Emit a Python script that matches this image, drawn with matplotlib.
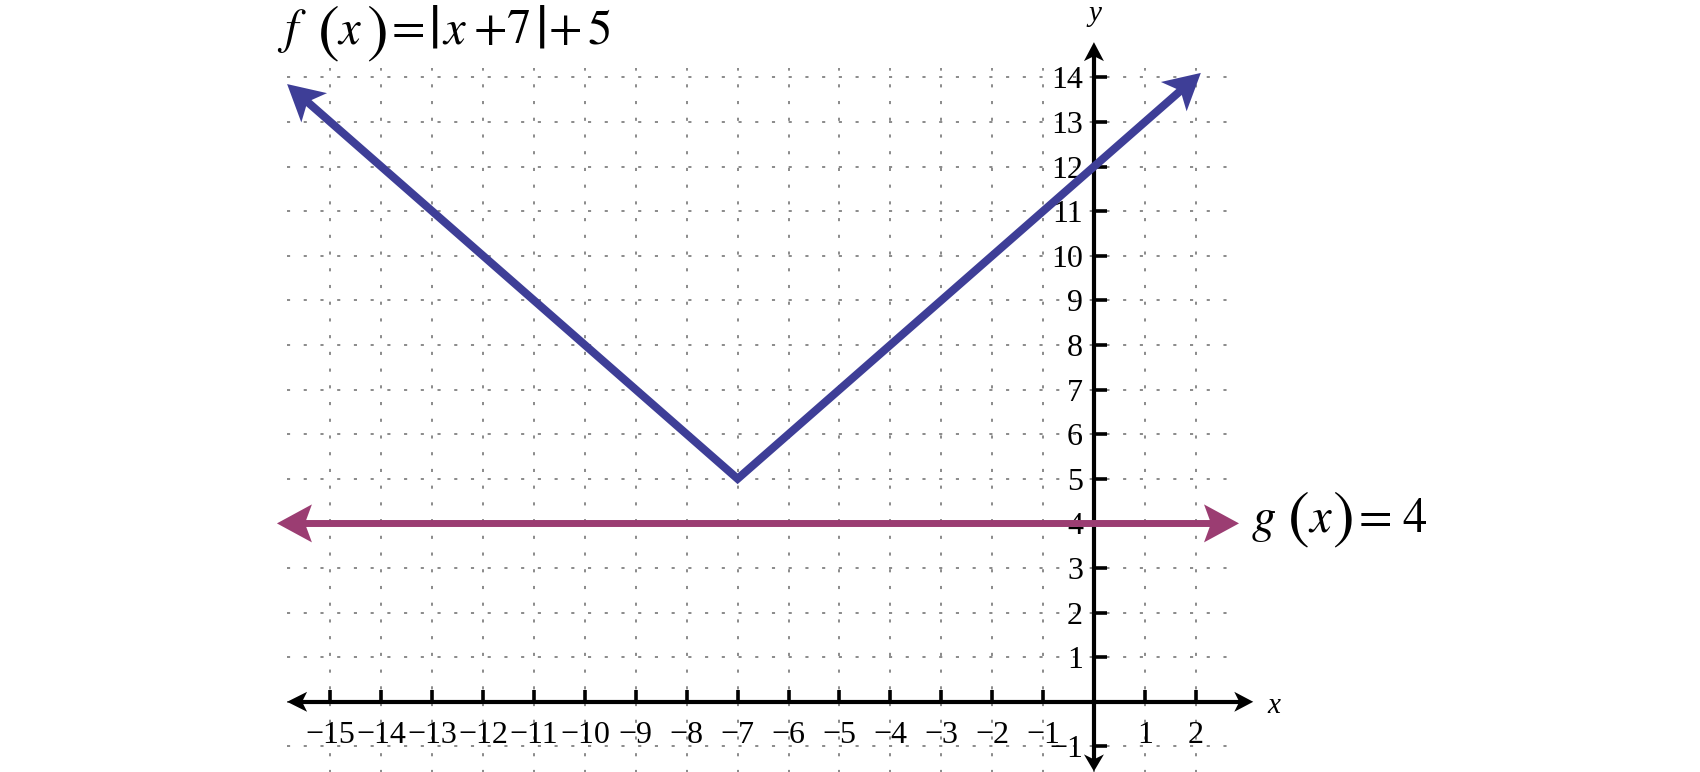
import numpy as np
import matplotlib.pyplot as plt
from matplotlib.patches import Polygon
from matplotlib.transforms import IdentityTransform

plt.rcParams['font.family'] = ['Liberation Serif', 'DejaVu Serif']
plt.rcParams['mathtext.fontset'] = 'stix'

# values
f_x = [-15.85, -7.0, 2.1]
f_y = [13.85, 5.0, 14.1]
g_x = [-16.05, 2.85]
g_y = [4.0, 4.0]

x_ticks = [-15, -14, -13, -12, -11, -10, -9, -8, -7, -6, -5, -4, -3, -2, -1, 1, 2]
x_labels = ['−15', '−14', '−13', '−12', '−11', '−10', '−9', '−8', '−7', '−6',
            '−5', '−4', '−3', '−2', '−1', '1', '2']
y_ticks = [-1, 1, 2, 3, 4, 5, 6, 7, 8, 9, 10, 11, 12, 13, 14]
y_labels = ['−1', '1', '2', '3', '4', '5', '6', '7', '8', '9', '10', '11', '12', '13', '14']
grid_x = list(range(-15, 3))
grid_y = list(range(-1, 15))

x_axis = [-15.85, 3.13]
y_axis = [-1.56, 14.79]

f_color = '#3e3e97'
g_color = '#9b3d72'

W, H = 1700, 772
fig = plt.figure(figsize=(17, 7.72), dpi=100)
ax = fig.add_axes([0, 0, 1, 1])
ax.set_xlim(-21.49, 11.906)
ax.set_ylim(-1.574, 15.735)
ax.axis('off')


def arrow_head(tip, prev, length, half, notch, color, z):
    # stealth style head drawn in pixels, returns where the line should stop
    p1 = ax.transData.transform(tip)
    p0 = ax.transData.transform(prev)
    d = (p1 - p0) / np.hypot(*(p1 - p0))
    n = np.array([-d[1], d[0]])
    pts = [p1, p1 - length * d + half * n, p1 - (length - notch) * d, p1 - length * d - half * n]
    ax.add_patch(Polygon(pts, closed=True, transform=IdentityTransform(),
                         facecolor=color, edgecolor='none', zorder=z))
    return ax.transData.inverted().transform(p1 - (length - notch - 2) * d)


def formula(pieces, base_y):
    # pieces: (text, left px, font size, baseline shift px, italic)
    for s, left, size, dy, it in pieces:
        fig.text(left / W, 1 - (base_y + dy) / H, s, fontsize=size,
                 family='STIXGeneral', style='italic' if it else 'normal',
                 ha='left', va='baseline')


# dotted grid
grid_style = dict(colors='#8a8a8a', linewidths=1.4, linestyles=(0, (1.6, 7.0)), zorder=1)
ax.vlines(grid_x, -1.6, 14.2, **grid_style)
ax.hlines(grid_y, -15.85, 2.83, **grid_style)

# axes with arrows
xa0 = arrow_head((x_axis[0], 0), (0, 0), 20, 10, 5, 'black', 4)
xa1 = arrow_head((x_axis[1], 0), (0, 0), 19, 10, 5, 'black', 4)
ax.plot([xa0[0], xa1[0]], [0, 0], color='black', lw=3, solid_capstyle='butt', zorder=3)
ya0 = arrow_head((0, y_axis[0]), (0, 0), 17, 10, 5, 'black', 4)
ya1 = arrow_head((0, y_axis[1]), (0, 0), 19, 10, 5, 'black', 4)
ax.plot([0, 0], [ya0[1], ya1[1]], color='black', lw=3, solid_capstyle='butt', zorder=3)

ax.vlines(x_ticks, 0, 0.27, colors='black', linewidths=2.6, zorder=3)
ax.hlines(y_ticks, 0, 0.26, colors='black', linewidths=2.6, zorder=3)

for xt, lab in zip(x_ticks, x_labels):
    ax.annotate(lab, (xt, 0), xytext=(0, -29.5), textcoords='offset points',
                ha='center', va='baseline', fontsize=23)
for yt, lab in zip(y_ticks, y_labels):
    ax.annotate(lab, (0, yt), xytext=(-7.9, -7.9), textcoords='offset points',
                ha='right', va='baseline', fontsize=23)

ax.text(3.40, -0.25, 'x', fontstyle='italic', fontsize=21, ha='left', va='baseline')
ax.text(0.02, 15.26, 'y', fontstyle='italic', fontsize=21, ha='center', va='baseline')

# f(x) = |x+7| + 5
fa = arrow_head((f_x[0], f_y[0]), (f_x[1], f_y[1]), 36, 19.5, 9, f_color, 6)
fb = arrow_head((f_x[2], f_y[2]), (f_x[1], f_y[1]), 36, 19.5, 9, f_color, 6)
ax.plot([fa[0], f_x[1], fb[0]], [fa[1], f_y[1], fb[1]], color=f_color, lw=5.8,
        solid_joinstyle='miter', solid_capstyle='butt', zorder=5)

# g(x) = 4
ga = arrow_head((g_x[0], g_y[0]), (g_x[1], g_y[1]), 35, 19, 7, g_color, 6)
gb = arrow_head((g_x[1], g_y[1]), (g_x[0], g_y[0]), 35, 19, 7, g_color, 6)
ax.plot([ga[0], gb[0]], [ga[1], gb[1]], color=g_color, lw=5, solid_capstyle='butt', zorder=5)

formula([('f', 284, 35, 0, True), ('(', 318, 47, 6, False), ('x', 338, 35, 0, True),
         (')', 366, 47, 6, False), ('=', 392, 35, 0, False), ('|', 429, 45, 5, False),
         ('x', 443, 35, 0, True), ('+', 474, 35, 0, False), ('7', 507, 35, 0, False),
         ('|', 536, 45, 5, False), ('+', 549, 35, 0, False), ('5', 587, 35, 0, False)], 43)
formula([('g', 1252, 35, 0, True), ('(', 1288, 47, 3, False), ('x', 1309, 35, 0, True),
         (')', 1332, 47, 3, False), ('=', 1359, 35, 0, False), ('4', 1402, 35, 0, False)], 532)

fig.savefig('out.png', dpi=100)
